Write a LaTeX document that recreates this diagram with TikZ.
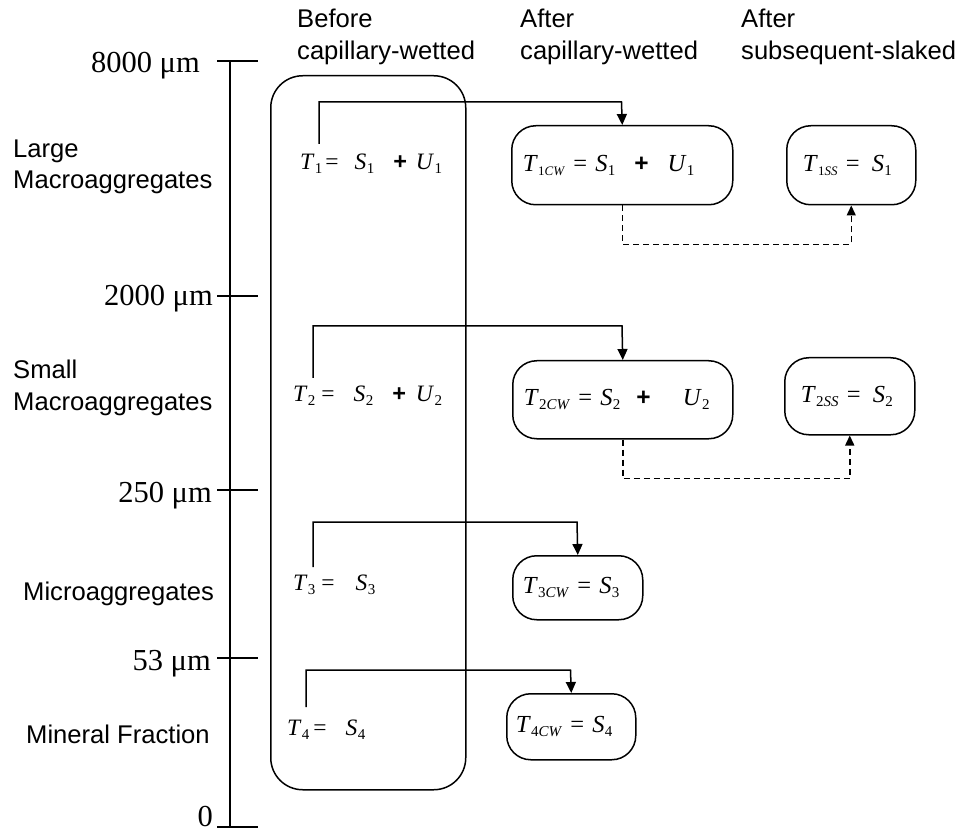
\documentclass[tikz,border=0pt]{standalone}
\usepackage{fontspec}
\setmainfont{Liberation Serif}
\setsansfont{Liberation Sans}
\usetikzlibrary{arrows.meta}
% italic letter with a small, lowered subscript
\newcommand\Tv[3][15]{\textit{#2}\kern0.3pt\raisebox{-4pt}{\fontsize{#1}{#1}\selectfont #3}}
\newcommand\pl{\textsf{\bfseries +}}
\begin{document}
\begin{tikzpicture}[x=1pt,y=-1pt,
  every node/.style={inner sep=0pt},
  axlab/.style={anchor=base east, font=\fontsize{30.5}{34}\selectfont},
  sidelab/.style={anchor=base west, font=\sffamily\fontsize{25.6}{30}\selectfont},
  formula/.style={anchor=base west, font=\fontsize{23.5}{27}\selectfont},
  rbox/.style={draw, line width=1.5pt, rounded corners=24pt, anchor=north west, align=left, inner ysep=0pt, font=\fontsize{24.5}{28}\selectfont},
  axisline/.style={line width=1.5pt},
  flow/.style={line width=1.5pt, -{Triangle[length=11pt,width=10pt]}},
  dflow/.style={line width=1.5pt, dash pattern=on 6pt off 4pt, -{Triangle[length=10pt,width=9pt]}},
]
\useasboundingbox (0,0) rectangle (959,834);

% axis
\coordinate (atop) at (230,61);
\coordinate (abot) at (230,827);
\draw[axisline] (atop) -- (abot);
\foreach \yy in {61,296,490,658,827}
  \draw[axisline] (217,\yy) -- (258,\yy);
\node[axlab] (a8000) at (200,73) {8000 μm};
\node[axlab] (a2000) at (213,306) {2000 μm};
\node[axlab] (a250) at (212,502) {250 μm};
\node[axlab] (a53) at (211,670) {53 μm};
\node[axlab] (a0) at (213,826) {0};

% side labels
\node[sidelab] (l1a) at (13,158) {Large};
\node[sidelab] (l1b) at (13,189) {Macroaggregates};
\node[sidelab] (l2a) at (13,379) {Small};
\node[sidelab] (l2b) at (13,410) {Macroaggregates};
\node[sidelab] (l3) at (23,600) {Microaggregates};
\node[sidelab] (l4) at (26,743) {Mineral Fraction};

% headers
\node[sidelab] (h1a) at (297,28) {Before};
\node[sidelab] (h1b) at (297,60) {capillary-wetted};
\node[sidelab] (h2a) at (520,28) {After};
\node[sidelab] (h2b) at (520,60) {capillary-wetted};
\node[sidelab] (h3a) at (741,28) {After};
\node[sidelab] (h3b) at (741,60) {subsequent-slaked};

% big box
\node[draw, line width=1.5pt, rounded corners=32pt, anchor=north west,
      minimum width=195pt, minimum height=714pt] (before) at (270,75) {};

% left formulas
\node[formula] (t1) at (300,170) {\Tv{T}{1}\hspace{3pt}=\hspace{16pt}\Tv{S}{1}\hspace{19pt}\pl\hspace{9pt}\Tv{U}{1}};
\node[formula] (t2) at (293,402) {\Tv{T}{2}\hspace{6pt}=\hspace{19pt}\Tv{S}{2}\hspace{19pt}\pl\hspace{10pt}\Tv{U}{2}};
\node[formula] (t3) at (293,590) {\Tv{T}{3}\hspace{6pt}=\hspace{21pt}\Tv{S}{3}};
\node[formula] (t4) at (287,735) {\Tv{T}{4}\hspace{4pt}=\hspace{19pt}\Tv{S}{4}};

% right boxes
\node[rbox, inner xsep=11pt, text width=199pt, minimum height=79pt] (c1) at (511,125)
  {\mbox{\Tv[13]{T}{1\textit{CW}} = \Tv{S}{1}\hspace{19pt}\pl\hspace{19pt}\Tv{U}{1}}};
\node[rbox, inner xsep=16pt, text width=97pt, minimum height=79pt] (s1) at (786,125)
  {\mbox{\Tv[13]{T}{1\textit{SS}} = \hspace{4pt}\Tv{S}{1}}};
\node[rbox, inner xsep=11pt, text width=198pt, minimum height=78pt] (c2) at (512,360)
  {\mbox{\Tv[15]{T}{2\textit{CW}} = \Tv{S}{2}\hspace{16pt}\pl\hspace{32pt}\Tv{U}{2}}};
\node[rbox, inner xsep=16pt, text width=98pt, minimum height=77pt] (s2) at (784,357)
  {\mbox{\Tv[15]{T}{2\textit{SS}} = \hspace{4pt}\Tv{S}{2}}};
\node[rbox, inner xsep=10pt, text width=110pt, minimum height=64pt] (c3) at (512,555)
  {\mbox{\Tv[15]{T}{3\textit{CW}} = \Tv{S}{3}}};
\node[rbox, inner xsep=9pt, text width=111pt, minimum height=66pt] (c4) at (506,693)
  {\mbox{\Tv[15]{T}{4\textit{CW}} = \Tv{S}{4}}};

% connectors
\coordinate (t1s) at (319,144);
\coordinate (k1) at (621.5,102);
\coordinate (t2s) at (313,378);
\coordinate (k2) at (622,326);
\coordinate (t3s) at (313,567);
\coordinate (k3) at (577,522);
\coordinate (t4s) at (306,707);
\coordinate (k4) at (570.5,670);
\draw[flow] (t1s) |- (k1) -- (c1.north);
\draw[flow] (t2s) |- (k2) -- (c2.north);
\draw[flow] (t3s) |- (k3) -- (c3.north);
\draw[flow] (t4s) |- (k4) -- (c4.north);

\draw[dflow] (c1.south) -- ++(0,39) -| (s1.south);
\draw[dflow] (c2.south) -- ++(0,39) -| (s2.south);
\end{tikzpicture}
\end{document}
